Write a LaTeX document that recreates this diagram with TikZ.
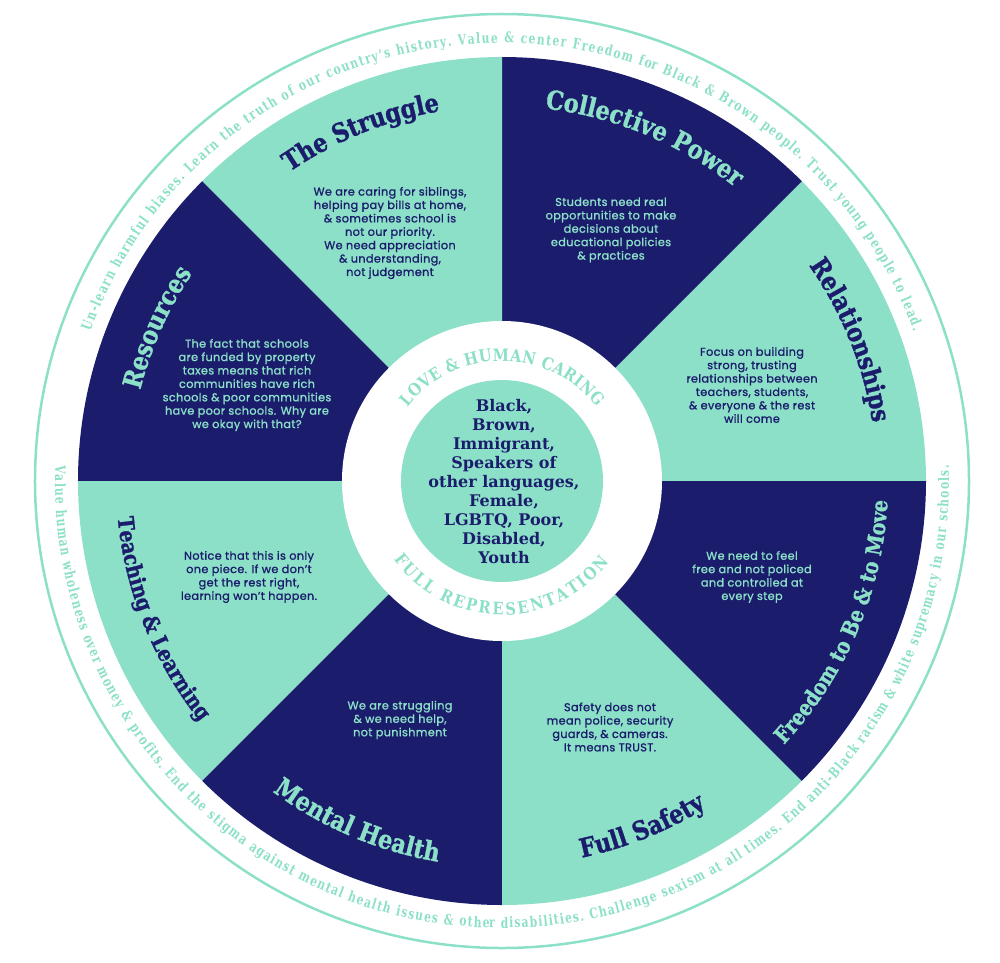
\documentclass[tikz,border=0pt]{standalone}
\usepackage{fontspec}
\usepackage{tikz}
\usetikzlibrary{decorations.text}

\setmainfont{DejaVu Serif}
\setsansfont{Poppins}[LetterSpace=3, FakeBold=1.2]
\newfontfamily\slabfont{DejaVu Serif}[FakeStretch=0.86]
\newfontfamily\heavyslab{DejaVu Serif}[FakeStretch=0.86, FakeBold=1.2]
\newfontfamily\rimslab{DejaVu Serif}[FakeStretch=0.74]

\definecolor{mint}{HTML}{8CE0C8}
\definecolor{navy}{HTML}{1B1D6C}

\newcommand{\sectorfont}{\heavyslab\bfseries\fontsize{26}{26}\selectfont}
\newcommand{\narrowsectorfont}{\heavyslab\bfseries\fontsize{22}{22}\selectfont}
\newcommand{\rimfont}{\rimslab\bfseries\fontsize{14.5}{14.5}\selectfont}
\newcommand{\bandfont}{\slabfont\bfseries\fontsize{17}{17}\selectfont}

\begin{document}
\begin{tikzpicture}[x=1pt, y=1pt,
    body/.style={font=\sffamily\fontsize{11.3}{13.4}\selectfont, align=center, inner sep=0pt},
    darkbody/.style={body, text=navy},
    lightbody/.style={body, text=mint},
    hub/.style={font=\rmfamily\bfseries\fontsize{16}{19}\selectfont, align=center, text=navy, inner sep=0pt},
    titlecurve/.style={decorate, decoration={text along path, text align=center, text color=#1}},
    rimcurve/.style={decorate, decoration={text along path, text align={fit to path}, text color=mint}}]

    \useasboundingbox (-502,-481) rectangle (498,481);

    % Sectores
    \foreach \a/\col in {0/mint, 45/navy, 90/mint, 135/navy, 180/mint, 225/navy, 270/mint, 315/navy}
        \fill[\col] (0,0) -- (\a:424) arc[start angle=\a, end angle=\a+45, radius=424] -- cycle;

    % Anillo blanco y centro
    \fill[white] (0,0) circle (160);
    \fill[mint] (0,0) circle (101);

    % Borde exterior
    \draw[mint, line width=2.5pt] (0,0) circle (467);

    % Texto del borde
    \path[rimcurve, decoration={text={|\rimfont|Un-learn harmful biases. Learn the truth of our country’s history. Value {\&} center Freedom for Black {\&} Brown people. Trust young people to lead.}}]
        (160:438) arc[start angle=160, end angle=20, radius=438];
    \path[rimcurve, decoration={text={|\rimfont|Value human wholeness over money {\&} profits. End the stigma against mental health issues {\&} other disabilities. Challenge sexism at all times. End anti-Black racism {\&} white supremacy in our schools.}}]
        (178:447) arc[start angle=178, end angle=362, radius=447];

    % Titulos de la mitad superior
    \path[titlecurve=navy, decoration={text={|\sectorfont|The Struggle}}]
        (152:375) arc[start angle=152, end angle=72, radius=375];
    \path[titlecurve=mint, decoration={text={|\sectorfont|Collective Power}}]
        (107.5:375) arc[start angle=107.5, end angle=27.5, radius=375];
    \path[titlecurve=navy, decoration={text={|\sectorfont|Relationships}}]
        (62:375) arc[start angle=62, end angle=-18, radius=375];
    \path[titlecurve=mint, decoration={text={|\sectorfont|Resources}}]
        (196:373) arc[start angle=196, end angle=116, radius=373];

    % Titulos de la mitad inferior
    \path[titlecurve=mint, decoration={text={|\narrowsectorfont|Freedom to Be {\&} to Move}}]
        (-63:386) arc[start angle=-63, end angle=17, radius=386];
    \path[titlecurve=navy, decoration={text={|\sectorfont|Full Safety}}]
        (-108:385) arc[start angle=-108, end angle=-28, radius=385];
    \path[titlecurve=mint, decoration={text={|\sectorfont|Mental Health}}]
        (-153:386) arc[start angle=-153, end angle=-73, radius=386];
    \path[titlecurve=navy, decoration={text={|\narrowsectorfont|Teaching {\&} Learning}}]
        (162:386) arc[start angle=162, end angle=242, radius=386];

    % Anillo interior
    \path[rimcurve, decoration={text={|\bandfont|LOVE {\&} HUMAN CARING}}]
        (142:120) arc[start angle=142, end angle=38, radius=120];
    \path[rimcurve, decoration={text={|\bandfont|FULL REPRESENTATION}}]
        (216:134) arc[start angle=216, end angle=323, radius=134];

    % Textos de cada sector
    \node[darkbody] (strugglenote) at (-112,248) {We are caring for siblings,\\ helping pay bills at home,\\ \& sometimes school is\\ not our priority.\\ We need appreciation\\ \& understanding,\\ not judgement};
    \node[lightbody] (powernote) at (109,251) {Students need real\\ opportunities to make\\ decisions about\\ educational policies\\ \& practices};
    \node[darkbody] (relationsnote) at (250,96) {Focus on building\\ strong, trusting\\ relationships between\\ teachers, students,\\ \& everyone \& the rest\\ will come};
    \node[lightbody] (resourcesnote) at (-255,96) {The fact that schools\\ are funded by property\\ taxes means that rich\\ communities have rich\\ schools \& poor communities\\ have poor schools. Why are\\ we okay with that?};
    \node[darkbody] (teachingnote) at (-253,-96) {Notice that this is only\\ one piece. If we don’t\\ get the rest right,\\ learning won’t happen.};
    \node[lightbody] (healthnote) at (-102,-239) {We are struggling\\ \& we need help,\\ not punishment};
    \node[lightbody] (freedomnote) at (250,-96) {We need to feel\\ free and not policed\\ and controlled at\\ every step};
    \node[darkbody] (safetynote) at (108,-246) {Safety does not\\ mean police, security\\ guards, \& cameras.\\ It means TRUST.};

    % Centro
    \node[hub] (groups) at (2,-1) {Black,\\ Brown,\\ Immigrant,\\ Speakers of\\ other languages,\\ Female,\\ LGBTQ, Poor,\\ Disabled,\\ Youth};
\end{tikzpicture}
\end{document}
